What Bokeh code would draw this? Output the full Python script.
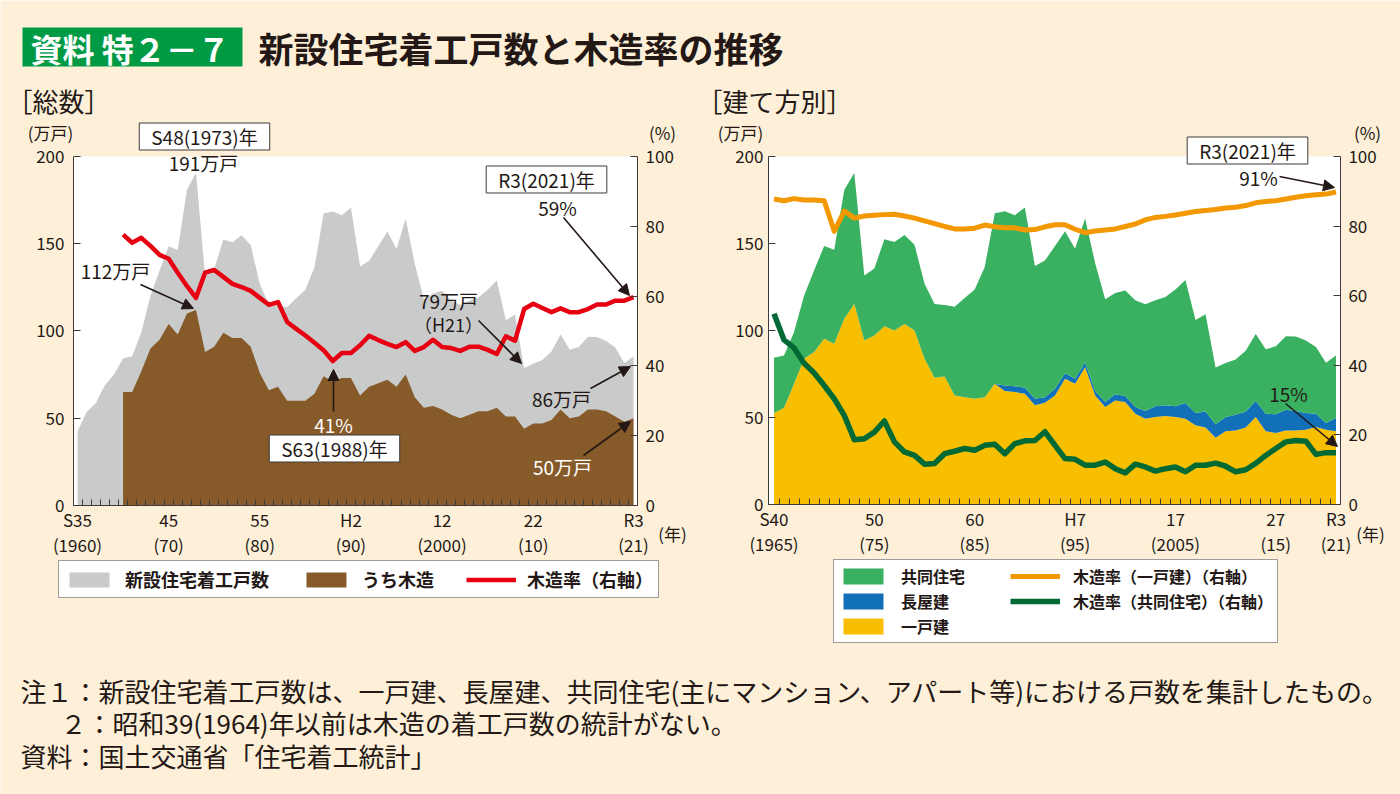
from bokeh.plotting import figure
from bokeh.models import (Range1d, LinearAxis, FixedTicker, Label, Arrow, NormalHead,
                          Legend, LegendItem, ColumnDataSource)
from bokeh.embed import file_html
from bokeh.resources import INLINE
from bokeh.core.properties import value

FONT = "Noto Sans CJK JP"
BG = "#FEF0D8"
INK = "#231815"
AXC = "#3E3A39"

# ---------------- data: 総数 ----------------
years_total = list(range(1960, 2022))
starts_total = [42.4, 53.6, 58.6, 68.9, 75.1, 84.3, 85.6, 99.1, 120.1, 134.7,
                148.5, 146.4, 180.8, 190.5, 131.6, 135.6, 152.4, 150.8, 154.9, 149.3,
                126.9, 115.2, 114.6, 113.7, 118.7, 123.6, 136.5, 167.4, 168.5, 166.3,
                170.7, 137.0, 140.3, 148.6, 157.0, 147.0, 164.3, 138.7, 118.0, 121.5,
                123.0, 117.4, 115.1, 117.4, 119.3, 123.6, 129.0, 106.1, 109.4, 78.8,
                81.3, 83.4, 88.3, 98.0, 89.2, 90.9, 96.7, 96.5, 94.2, 90.5,
                81.5, 85.6]
years_wood = list(range(1965, 2022))
starts_wood = [65, 65, 77, 90, 95, 104, 98, 110, 112, 88,
               91, 99, 96, 96, 91, 76, 66, 68, 60, 60,
               60, 64, 74, 71, 73, 73, 63, 68, 70, 72,
               68, 75, 62, 56, 57, 55, 52, 50, 52, 54,
               54, 56, 51, 51, 44, 47, 47, 49, 55, 50,
               51, 55, 55, 54, 51, 48, 50]
wood_rate = [77.6, 75.3, 76.7, 74.4, 71.8, 70.7, 66.7, 62.9, 59.5, 66.7,
             67.5, 65.5, 63.5, 62.6, 61.5, 59.5, 57.5, 58.3, 52.6, 50.6,
             48.7, 46.6, 44.5, 41.4, 43.7, 43.7, 45.9, 48.6, 47.4, 46.3,
             45.4, 46.8, 44.3, 45.4, 47.5, 45.4, 45.1, 44.3, 45.5, 45.5,
             44.6, 43.4, 48.5, 47.2, 56.3, 57.8, 56.6, 55.4, 56.5, 55.4,
             55.4, 56.3, 57.6, 57.6, 58.7, 58.7, 59.7]

# ---------------- data: 建て方別 ----------------
years_type = list(range(1965, 2022))
detached = [52.6, 55.6, 69.4, 83.7, 87.6, 95.2, 92.4, 106.7, 115.3, 94.3,
            97.1, 102.5, 100.0, 103.8, 100.0, 83.7, 72.9, 73.6, 62.7, 61.7,
            60.8, 61.7, 69.4, 65.2, 64.6, 63.7, 57.0, 58.5, 62.7, 72.3,
            69.4, 78.9, 62.7, 56.0, 59.8, 58.9, 52.2, 49.3, 50.3, 50.8,
            50.3, 49.3, 45.5, 44.2, 38.4, 42.1, 42.6, 44.2, 50.3, 42.1,
            41.1, 42.6, 42.6, 43.0, 44.5, 43.0, 42.1]
row_house = [0, 0, 0, 0, 0, 0, 0, 0, 0, 0,
             0, 0, 0, 0, 0, 0, 0, 0, 0, 0,
             0, 0, 0, 3.2, 3.4, 3.4, 3.8, 3.2, 3.8, 3.2,
             2.9, 2.9, 2.5, 2.9, 3.5, 3.4, 3.8, 4.4, 6.1, 6.2,
             6.1, 9.0, 7.1, 9.3, 7.7, 8.2, 9.0, 9.3, 9.2, 10.1,
             10.7, 11.9, 11.1, 9.6, 7.7, 3.8, 7.6]
apartment = [31.7, 30.0, 29.7, 36.4, 47.1, 53.3, 54.0, 74.1, 75.2, 37.3,
             38.5, 49.9, 50.8, 51.1, 49.3, 43.2, 42.3, 41.0, 51.0, 57.0,
             62.8, 74.8, 98.0, 100.1, 98.3, 103.6, 76.2, 78.6, 82.1, 81.5,
             74.7, 82.5, 73.5, 59.1, 58.2, 60.7, 61.4, 61.4, 61.0, 62.3,
             67.2, 70.7, 53.5, 55.9, 32.7, 31.0, 31.8, 34.8, 38.5, 37.0,
             39.1, 42.2, 42.8, 41.6, 38.3, 34.7, 35.9]
rate_detached = [87.8, 87.3, 87.9, 87.5, 87.5, 87.3, 78.5, 84.3, 82.3, 82.9,
                 83.1, 83.3, 83.4, 82.9, 82.3, 81.5, 80.7, 79.9, 79.2, 79.2,
                 79.4, 80.3, 79.8, 79.5, 79.5, 78.9, 79.0, 79.8, 80.4, 80.4,
                 79.1, 78.1, 78.6, 78.9, 79.2, 79.9, 80.6, 81.8, 82.5, 82.8,
                 83.2, 83.7, 84.2, 84.5, 84.8, 85.2, 85.4, 85.9, 86.7, 87.1,
                 87.3, 87.8, 88.3, 88.7, 89.0, 89.2, 89.8]
rate_apartment = [54.8, 47.3, 45.0, 40.6, 37.8, 34.2, 30.4, 25.6, 18.6, 18.9,
                  20.8, 24.0, 18.0, 15.1, 14.1, 11.6, 11.8, 14.6, 15.3, 16.1,
                  15.6, 17.0, 17.3, 14.6, 17.5, 18.3, 18.4, 20.9, 17.0, 13.2,
                  13.0, 11.3, 11.3, 12.2, 10.3, 9.1, 11.6, 10.8, 9.6, 10.3,
                  10.8, 9.4, 11.3, 11.3, 11.9, 11.0, 9.4, 10.0, 11.8, 14.1,
                  16.1, 18.0, 18.4, 18.2, 14.4, 14.9, 14.9]

left_ticks = [1960, 1970, 1980, 1990, 2000, 2010, 2021]
left_tick_labels = ["S35\n(1960)", "45\n(70)", "55\n(80)", "H2\n(90)", "12\n(2000)", "22\n(10)", "R3\n(21)"]
right_ticks = [1965, 1975, 1985, 1995, 2005, 2015, 2021]
right_tick_labels = ["S40\n(1965)", "50\n(75)", "60\n(85)", "H7\n(95)", "17\n(2005)", "27\n(15)", "R3\n(21)"]
count_ticks = [0, 50, 100, 150, 200]
pct_ticks = [0, 20, 40, 60, 80, 100]

# plot-area limits (axis extents) of the two panels
LX0, LX1 = 1959.56, 2021.44
RX0, RX1 = 1964.45, 2021.44

W, H = 1400, 794
p = figure(width=W, height=H,
           x_range=Range1d(1951.553, 2105.146), y_range=Range1d(-165.62, 289.40),
           output_backend="svg", toolbar_location=None, min_border=0,
           x_axis_location=None, y_axis_location=None,
           background_fill_color=BG, border_fill_color=BG, outline_line_color=None)
p.grid.visible = False
p.extra_x_ranges = {"r": Range1d(1887.927, 2027.426), "px": Range1d(0, W)}
p.extra_y_ranges = {"lp": Range1d(-82.81, 144.70), "rc": Range1d(-166.67, 289.66),
                    "rp": Range1d(-83.33, 144.83), "py": Range1d(H, 0)}


def style_axis(ax, standoff):
    ax.axis_line_color = AXC
    ax.axis_line_width = 1
    ax.major_tick_line_color = AXC
    ax.major_tick_in = 7
    ax.major_tick_out = 0
    ax.minor_tick_line_color = None
    ax.major_label_text_font = FONT
    ax.major_label_text_font_size = "17px"
    ax.major_label_text_color = INK
    ax.major_label_standoff = standoff


def y_axis(ticks, loc, bounds, standoff, xr="default", yr="default"):
    ax = LinearAxis(ticker=FixedTicker(ticks=ticks), fixed_location=loc, bounds=bounds,
                    x_range_name=xr, y_range_name=yr)
    style_axis(ax, standoff)
    return ax


def x_axis(ticks, labels, first, last, bounds, xr="default", yr="default"):
    ax = LinearAxis(ticker=FixedTicker(ticks=ticks,
                                       minor_ticks=[y + 0.5 for y in range(first, last)]),
                    fixed_location=0, bounds=bounds, x_range_name=xr, y_range_name=yr)
    style_axis(ax, 2)
    ax.major_tick_line_color = None
    ax.minor_tick_line_color = AXC
    ax.minor_tick_in = 6
    ax.minor_tick_out = 0
    ax.major_label_overrides = dict(zip(ticks, labels))
    ax.major_label_text_line_height = 1.0
    return ax


def label(x, y, text, size="19px", color=INK, align="center", box=False, bold=False):
    kw = {}
    if box:
        kw = dict(background_fill_color="white", border_line_color=AXC,
                  border_line_width=1, padding=(12, 0))
    p.add_layout(Label(x=x, y=y, text=text, text_font=FONT, text_font_size=size,
                       text_color=color, text_align=align, text_baseline="middle",
                       x_range_name="px", y_range_name="py",
                       text_font_style="bold" if bold else "normal", **kw))


def arrow(xs, ys, xe, ye):
    p.add_layout(Arrow(x_start=xs, y_start=ys, x_end=xe, y_end=ye,
                       x_range_name="px", y_range_name="py",
                       line_color=INK, line_width=1.6,
                       end=NormalHead(size=11, fill_color=INK, line_color=INK)))


# ================= header =================
p.quad(left=[22], right=[242], top=[27], bottom=[66], x_range_name="px", y_range_name="py",
       fill_color="#009944", line_color=None)
p.text(x=[30], y=[47], text=["資料 特２－７"], x_range_name="px", y_range_name="py",
       text_font=value(FONT), text_font_size="32px", text_font_style="bold",
       text_color="white", text_baseline="middle")
p.text(x=[258], y=[47], text=["新設住宅着工戸数と木造率の推移"], x_range_name="px", y_range_name="py",
       text_font=value(FONT), text_font_size="35px", text_font_style="bold",
       text_color=INK, text_baseline="middle")

# ================= left chart =================
p.quad(left=[LX0], right=[LX1], bottom=[0], top=[200], fill_color="white", line_color=None)
src_total = ColumnDataSource(dict(year=years_total, total=starts_total))
src_wood = ColumnDataSource(dict(year=years_wood, wood=starts_wood, rate=wood_rate))
r_grey = p.varea(x="year", y1=0, y2="total", source=src_total, fill_color="#C9CACA")
r_brown = p.varea(x="year", y1=0, y2="wood", source=src_wood, fill_color="#875A2A")
r_red = p.line(x="year", y="rate", source=src_wood, line_color="#E60012", line_width=4.5,
               y_range_name="lp", line_join="round")

p.add_layout(y_axis(count_ticks, LX0, (0, 200), 9), "left")
p.add_layout(y_axis(pct_ticks, LX1, (0, 100), 8, yr="lp"), "right")
p.add_layout(x_axis(left_ticks, left_tick_labels, 1960, 2021, (LX0, LX1)), "below")

label(6, 100, "［総数］", size="26px", align="left")
label(50, 132, "(万戸)", size="17px")
label(662, 132, "(%)", size="17px")
label(672, 533, "(年)", size="17px")
label(204, 136, "S48(1973)年", box=True)
label(203, 162, "191万戸")
label(115, 270, "112万戸")
arrow(140, 284, 193, 308)
label(333, 424, "41%", color="white")
arrow(333, 411, 333, 369)
label(334, 448, "S63(1988)年", box=True)
label(546, 179, "R3(2021)年", box=True)
label(557, 207, "59%")
arrow(563, 217, 629, 295)
label(448, 300, "79万戸")
label(448, 323, "（H21）", size="18px")
arrow(478, 320, 521, 363)
label(561, 398, "86万戸")
arrow(590, 388, 630, 366)
label(562, 466, "50万戸", color="white")
arrow(583, 455, 630, 421)

leg_l = Legend(items=[LegendItem(label="新設住宅着工戸数", renderers=[r_grey]),
                      LegendItem(label="うち木造", renderers=[r_brown]),
                      LegendItem(label="木造率（右軸）", renderers=[r_red])],
               orientation="horizontal", location=(58, H - 598), margin=0, padding=5,
               spacing=32, glyph_width=50, glyph_height=19, label_standoff=11,
               label_text_font=FONT, label_text_font_size="18px", label_text_font_style="bold",
               label_text_color=INK, border_line_color=AXC, border_line_width=1,
               background_fill_color="white", background_fill_alpha=1.0)
p.add_layout(leg_l)

# ================= right chart =================
p.quad(left=[RX0], right=[RX1], bottom=[0], top=[200], fill_color="white", line_color=None,
       x_range_name="r", y_range_name="rc")
src_type = ColumnDataSource(dict(year=years_type, detached=detached, row_house=row_house,
                                 apartment=apartment, rd=rate_detached, ra=rate_apartment))
stack = p.varea_stack(stackers=["detached", "row_house", "apartment"], x="year",
                      color=["#F8BE00", "#1270B8", "#3AB160"], source=src_type,
                      x_range_name="r", y_range_name="rc")
r_or = p.line(x="year", y="rd", source=src_type, line_color="#F39800", line_width=5,
              x_range_name="r", y_range_name="rp", line_join="round")
r_dg = p.line(x="year", y="ra", source=src_type, line_color="#006934", line_width=5.5,
              x_range_name="r", y_range_name="rp", line_join="round")

p.add_layout(y_axis(count_ticks, RX0, (0, 200), 5, xr="r", yr="rc"), "left")
p.add_layout(y_axis(pct_ticks, RX1, (0, 100), 8, xr="r", yr="rp"), "right")
p.add_layout(x_axis(right_ticks, right_tick_labels, 1965, 2021, (RX0, RX1), xr="r", yr="rc"), "below")

label(696, 100, "［建て方別］", size="26px", align="left")
label(740, 132, "(万戸)", size="17px")
label(1367, 132, "(%)", size="17px")
label(1370, 533, "(年)", size="17px")
label(1247, 150, "R3(2021)年", box=True)
label(1258, 177, "91%")
arrow(1279, 176, 1334, 187)
label(1288, 393, "15%")
arrow(1285, 403, 1337, 446)

leg_r = Legend(items=[LegendItem(label="共同住宅", renderers=[stack[2]]),
                      LegendItem(label="長屋建", renderers=[stack[1]]),
                      LegendItem(label="一戸建", renderers=[stack[0]]),
                      LegendItem(label="木造率（一戸建）（右軸）", renderers=[r_or]),
                      LegendItem(label="木造率（共同住宅）（右軸）", renderers=[r_dg])],
               orientation="vertical", ncols=2, location=(833, H - 643), margin=0, padding=4,
               spacing=1, glyph_width=50, glyph_height=20, label_standoff=13, label_width=108,
               label_text_font=FONT, label_text_font_size="16px", label_text_font_style="bold",
               label_text_color=INK, border_line_color=AXC, border_line_width=1,
               background_fill_color="white", background_fill_alpha=1.0)
p.add_layout(leg_r)

# ================= notes =================
notes = ["注１：新設住宅着工戸数は、一戸建、長屋建、共同住宅(主にマンション、アパート等)における戸数を集計したもの。",
         "２：昭和39(1964)年以前は木造の着工戸数の統計がない。",
         "資料：国土交通省「住宅着工統計」"]
p.text(x=[20, 60, 20], y=[690, 722, 755], text=notes, x_range_name="px", y_range_name="py",
       text_font=value(FONT), text_font_size="26px", text_color=INK, text_baseline="middle")

open("out.html", "w").write(file_html(p, INLINE))
